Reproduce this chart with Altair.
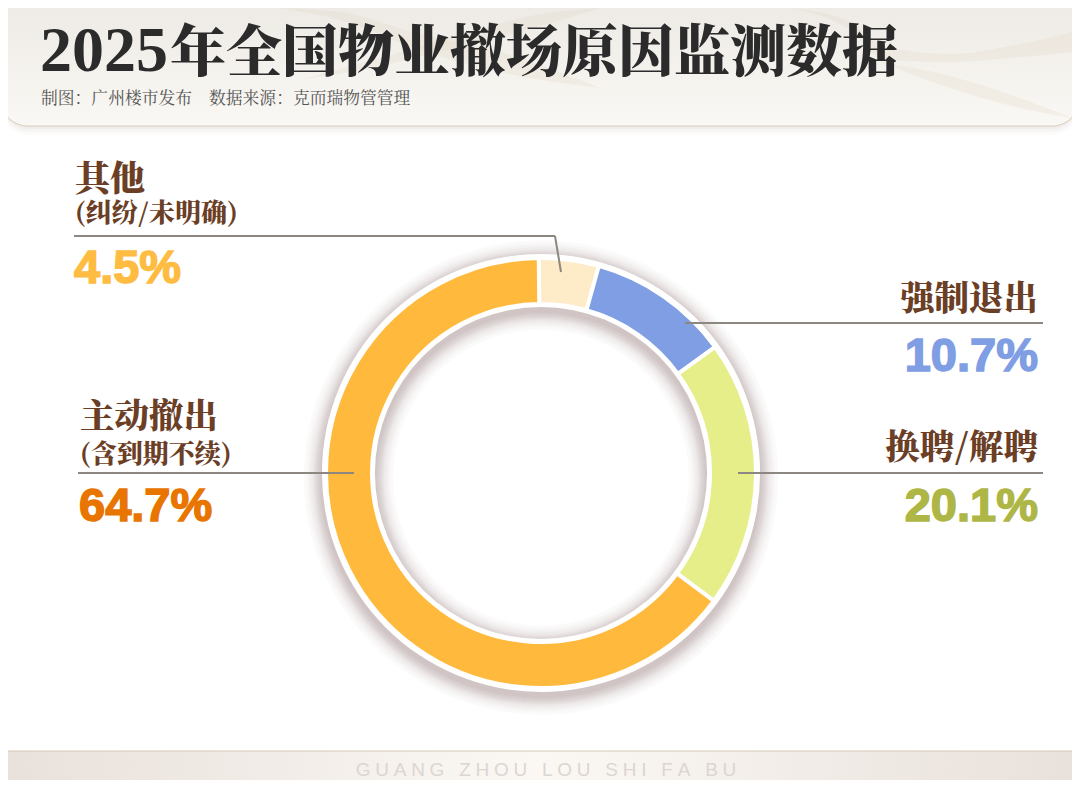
import altair as alt
import pandas as pd
import math

names = ['其他', '强制退出', '换聘/解聘', '主动撤出']
values = [4.5, 10.7, 20.1, 64.7]
ring_colors = ['#FEEBC8', '#7F9EE3', '#E5EE88', '#FFBA3D']

title_year = '2025'
title_rest = '年全国物业撤场原因监测数据'
subtitle_a = '制图：广州楼市发布'
subtitle_b = '数据来源：克而瑞物管管理'
footer = 'GUANG ZHOU LOU SHI FA BU'

SERIF = 'Noto Serif CJK SC, Noto Sans CJK SC'
NUM = 'Liberation Sans'
BROWN = '#6B3E26'
LINE = '#8C8780'

# ring centre and radii in page pixels
CX, CY = 541 - 8, 473 - 8
R_OUT, R_IN = 219, 166
START = math.radians(-0.6)


def px(v):
    # the page has an 8px margin
    return v - 8


def label(text, x, y, size, color, font=SERIF, weight=900, align='left', stroke=None):
    kw = {}
    if stroke:
        kw = {'stroke': color, 'strokeWidth': stroke}
    return alt.Chart(pd.DataFrame({'t': [text]})).mark_text(
        font=font, fontSize=size, fontWeight=weight, color=color, align=align, baseline='alphabetic', **kw
    ).encode(x=alt.value(px(x)), y=alt.value(px(y)), text='t:N')


def rule(x1, y1, x2, y2):
    return alt.Chart(pd.DataFrame({'a': [0]})).mark_rule(color=LINE, strokeWidth=2).encode(
        x=alt.value(px(x1)), x2=alt.value(px(x2)), y=alt.value(px(y1)), y2=alt.value(px(y2))
    )


def band(x1, y1, x2, y2, fill, stroke, **kw):
    return alt.Chart(pd.DataFrame({'a': [0]})).mark_rect(fill=fill, stroke=stroke, **kw).encode(
        x=alt.value(px(x1)), x2=alt.value(px(x2)), y=alt.value(px(y1)), y2=alt.value(px(y2))
    )


def wave(xs, ys, ys2, opacity=0.22):
    df = pd.DataFrame({'x': [px(v) for v in xs], 'y': [px(v) for v in ys], 'y2': [px(v) for v in ys2]})
    return alt.Chart(df).mark_area(interpolate='monotone', color='#DDD0BC', opacity=opacity).encode(
        x=alt.X('x:Q', scale=alt.Scale(domain=[0, 1064], range=[0, 1064]), axis=None),
        y=alt.Y('y:Q', scale=alt.Scale(domain=[0, 772], range=[0, 772]), axis=None),
        y2='y2:Q'
    )


header_fill = alt.Gradient(
    gradient='linear', x1=0, y1=0, x2=0, y2=1,
    stops=[alt.GradientStop(color='#EDEAE5', offset=0), alt.GradientStop(color='#FAF8F4', offset=1)]
)
footer_fill = alt.Gradient(
    gradient='linear', x1=0, y1=0, x2=1, y2=0,
    stops=[alt.GradientStop(color='#E8E0DB', offset=0), alt.GradientStop(color='#FBF8F4', offset=0.5),
           alt.GradientStop(color='#E8E0DB', offset=1)]
)

layers = []

# header shadow, band, waves
for grow, op in [(9, 0.04), (6, 0.05), (3, 0.07)]:
    layers.append(alt.Chart(pd.DataFrame({'a': [0]})).mark_rect(
        fill='#9C8F80', opacity=op, cornerRadiusBottomLeft=30, cornerRadiusBottomRight=30
    ).encode(x=alt.value(px(0)), x2=alt.value(px(1080)), y=alt.value(px(0)), y2=alt.value(px(126 + grow))))
layers.append(band(0, 0, 1080, 126, header_fill, '#DCCDB9', cornerRadiusBottomLeft=28, cornerRadiusBottomRight=28))
layers.append(wave([280, 340, 420, 500, 600], [8, 12, 34, 52, 88], [8, 20, 50, 72, 88]))
layers.append(wave([300, 380, 470, 540, 600], [80, 58, 32, 14, 8], [80, 66, 44, 26, 8]))
layers.append(wave([790, 850, 885, 950, 1010, 1072], [8, 22, 46, 54, 46, 32], [8, 30, 60, 62, 58, 52]))
layers.append(wave([880, 950, 1020, 1072], [62, 76, 98, 118], [62, 88, 108, 118]))

# ring shadow, denser close to the ring
for k in [18, 15, 13, 11, 9, 8, 7, 6, 5, 4, 3, 2, 1]:
    layers.append(alt.Chart(pd.DataFrame({'a': [0]})).mark_arc(
        theta=0, theta2=2 * math.pi, radius=R_OUT + k, radius2=R_IN - k, color='#75686C', opacity=0.03
    ).encode(x=alt.value(CX), y=alt.value(CY + 4.5)))

# white backing ring
layers.append(alt.Chart(pd.DataFrame({'a': [0]})).mark_arc(
    theta=0, theta2=2 * math.pi, radius=R_OUT, radius2=R_IN, color='white'
).encode(x=alt.value(CX), y=alt.value(CY)))

# the data
ring_df = pd.DataFrame({'name': names, 'value': values, 'idx': list(range(len(names)))})
layers.append(alt.Chart(ring_df).mark_arc(
    radius=R_OUT - 4, radius2=R_IN + 3, stroke='white', strokeWidth=4
).encode(
    x=alt.value(CX), y=alt.value(CY),
    theta=alt.Theta('value:Q', stack=True, scale=alt.Scale(domain=[0, 100], range=[START, START + 2 * math.pi])),
    order=alt.Order('idx:Q'),
    color=alt.Color('name:N', scale=alt.Scale(domain=names, range=ring_colors), legend=None)
))

# leader lines
layers += [
    rule(74, 236, 555, 236), rule(555, 236, 561, 272),
    rule(685, 323, 1043, 323),
    rule(738, 473, 1043, 473),
    rule(78, 473, 354, 473),
]

# title
layers += [
    label(title_year, 40, 71, 64, '#2B2B2B', font='Liberation Serif', weight='bold'),
    label(title_rest, 170, 71, 56, '#2B2B2B'),
    label(subtitle_a, 41, 104, 16.8, '#555555', weight='normal'),
    label(subtitle_b, 209, 104, 16.8, '#555555', weight='normal'),
]

# labels
layers += [
    label('其他', 75, 191, 35, BROWN),
    label('(纠纷/未明确)', 75, 222, 26, BROWN),
    label('4.5%', 74, 283, 47, '#FFBC42', font=NUM, weight='bold', stroke=1.5),
    label('强制退出', 1038, 310, 34.5, BROWN, align='right'),
    label('10.7%', 1038, 371, 47, '#7F9EE3', font=NUM, weight='bold', align='right', stroke=1.5),
    label('换聘/解聘', 1038, 459, 34.5, BROWN, align='right'),
    label('20.1%', 1038, 521, 47, '#AEB646', font=NUM, weight='bold', align='right', stroke=1.5),
    label('主动撤出', 80, 428, 34.5, BROWN),
    label('(含到期不续)', 80, 463, 26, BROWN),
    label('64.7%', 79, 521, 47, '#E87500', font=NUM, weight='bold', stroke=1.5),
]

# footer
layers.append(band(-2, 751, 1082, 787, footer_fill, '#D6C8B6'))
layers.append(alt.Chart(pd.DataFrame({'t': ['\u2005'.join(footer)]})).mark_text(
    font='Liberation Sans', fontSize=19, color='#DDD5D2', align='center', baseline='alphabetic'
).encode(x=alt.value(px(546)), y=alt.value(px(776)), text='t:N'))

chart = alt.layer(*layers).resolve_scale(theta='independent').properties(
    width=1064, height=772, padding=0,
    autosize=alt.AutoSizeParams(type='none'),
    background='white'
).configure_view(stroke=None)

chart.save("out.html", embed_options={"renderer": "svg", "actions": False})
